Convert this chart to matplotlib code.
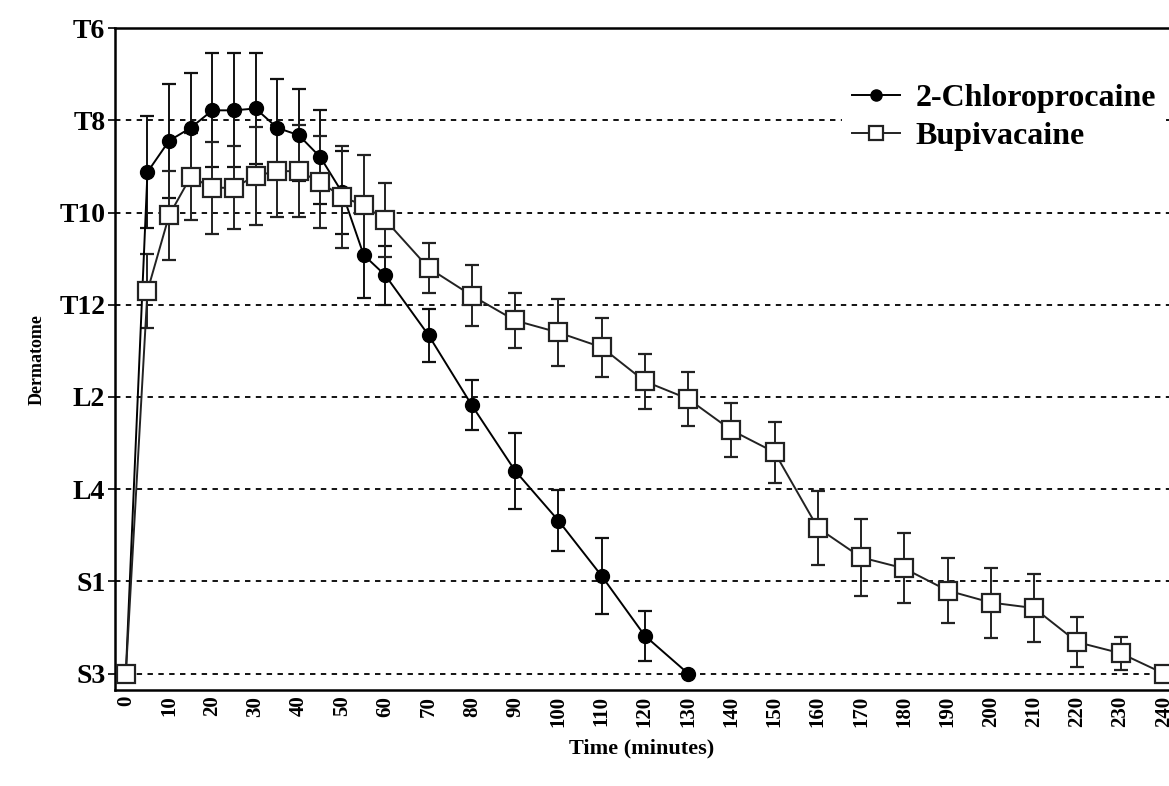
import matplotlib
matplotlib.use("Agg")
import matplotlib.pyplot as plt
import numpy as np

# Dermatome scale (S3 = 0 ... T6 = 7)
ytick_labels = ["S3", "S1", "L4", "L2", "T12", "T10", "T8", "T6"]
ytick_pos = [0, 1, 2, 3, 4, 5, 6, 7]
xticks = list(range(0, 250, 10))

# 2-Chloroprocaine
chloro_t = [0, 5, 10, 15, 20, 25, 30, 35, 40, 45, 50, 55, 60, 70, 80, 90, 100, 110, 120, 130]
chloro_y = [0, 5.44, 5.78, 5.92, 6.11, 6.11, 6.13, 5.92, 5.84, 5.60, 5.22, 4.54, 4.32,
            3.67, 2.91, 2.20, 1.66, 1.06, 0.41, 0.0]
chloro_err = [0, 0.61, 0.62, 0.60, 0.62, 0.62, 0.60, 0.53, 0.50, 0.51, 0.45, 0.47, 0.32,
              0.29, 0.27, 0.41, 0.33, 0.41, 0.27, 0]

# Bupivacaine
bupi_t = [0, 5, 10, 15, 20, 25, 30, 35, 40, 45, 50, 55, 60, 70, 80, 90, 100, 110, 120, 130,
          140, 150, 160, 170, 180, 190, 200, 210, 220, 230, 240]
bupi_y = [0, 4.15, 4.97, 5.39, 5.27, 5.27, 5.40, 5.45, 5.45, 5.33, 5.17, 5.08, 4.92, 4.40,
          4.10, 3.83, 3.70, 3.54, 3.17, 2.98, 2.64, 2.40, 1.58, 1.26, 1.14, 0.90, 0.77, 0.71,
          0.34, 0.22, 0.0]
bupi_err = [0, 0.40, 0.48, 0.47, 0.50, 0.45, 0.53, 0.50, 0.50, 0.50, 0.55, 0.54, 0.40, 0.27,
            0.33, 0.30, 0.36, 0.32, 0.30, 0.29, 0.29, 0.33, 0.40, 0.42, 0.38, 0.35, 0.38, 0.37,
            0.27, 0.18, 0]

serif = ["Liberation Serif", "DejaVu Serif"]
plt.rcParams["font.family"] = serif

fig = plt.figure(figsize=(11.69, 7.86), dpi=100)
ax = fig.add_axes([0.0984, 0.122, 0.9016, 0.842])

for yv in ytick_pos[:-1]:
    ax.axhline(yv, color="black", lw=1.3, ls=(0, (3, 3)), zorder=0)

ax.errorbar(chloro_t, chloro_y, yerr=chloro_err, fmt="none", ecolor="#111111",
            elinewidth=1.4, capsize=5, capthick=1.6, zorder=2)
ax.errorbar(bupi_t, bupi_y, yerr=bupi_err, fmt="none", ecolor="#222222",
            elinewidth=1.4, capsize=5, capthick=1.6, zorder=2)

ax.plot(chloro_t, chloro_y, "-o", color="black", lw=1.4, ms=10,
        mfc="black", mec="black", label="2-Chloroprocaine", zorder=3)
ax.plot(bupi_t, bupi_y, "-s", color="#222222", lw=1.4, ms=13,
        mfc="white", mec="#222222", mew=1.6, label="Bupivacaine", zorder=4)

ax.set_xlim(-2.5, 241.2)
ax.set_ylim(-0.18, 7)
ax.set_yticks(ytick_pos)
ax.set_yticklabels(ytick_labels, fontsize=20, fontweight="bold")
ax.set_xticks(xticks)
ax.set_xticklabels([str(v) for v in xticks], rotation=90, fontsize=15, fontweight="bold")
ax.tick_params(axis="y", length=5, width=1.2, pad=2)
ax.tick_params(axis="x", length=0, pad=4)

for s in ["left", "bottom", "top"]:
    ax.spines[s].set_linewidth(1.8)
ax.spines["right"].set_visible(False)

ax.set_xlabel("Time (minutes)", fontsize=16, fontweight="bold", labelpad=8)
ax.set_ylabel("Dermatome", fontsize=13, fontweight="bold", labelpad=10)

leg = ax.legend(loc="upper right", bbox_to_anchor=(1.0, 0.935), frameon=True,
                facecolor="white", edgecolor="none", framealpha=1.0,
                prop={"family": serif, "size": 23, "weight": "bold"},
                handlelength=1.5, handletextpad=0.5, labelspacing=0.25, markerscale=0.8,
                borderaxespad=0.1, borderpad=0.3)

fig.savefig("out.png", dpi=100)
